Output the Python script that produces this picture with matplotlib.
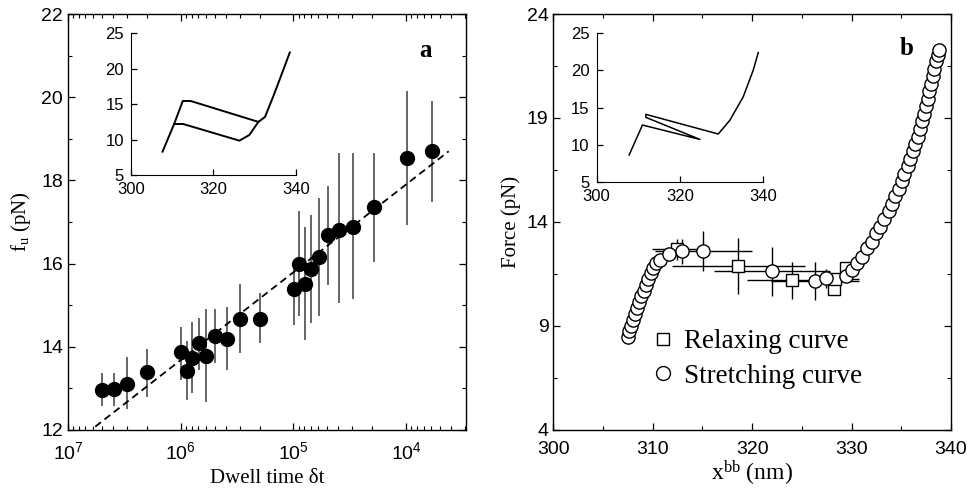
import matplotlib
matplotlib.use('Agg')
import matplotlib.pyplot as plt
from matplotlib.ticker import MultipleLocator, FixedLocator, NullFormatter, LogLocator
from matplotlib.lines import Line2D

plt.rcParams['font.family'] = 'Liberation Sans'
plt.rcParams['mathtext.fontset'] = 'custom'
plt.rcParams['mathtext.rm'] = 'Liberation Serif'
plt.rcParams['mathtext.it'] = 'Liberation Serif:italic'
plt.rcParams['mathtext.sf'] = 'Liberation Sans'

SERIF = 'Liberation Serif'

# ---------------- Panel a data ----------------
dwell = [5.0e6, 3.94e6, 3.0e6, 2.0e6, 1.0e6, 8.8e5, 7.9e5, 6.95e5, 6.0e5, 5.0e5,
         3.92e5, 2.97e5, 1.99e5, 9.9e4, 8.85e4, 7.9e4, 6.97e4, 5.93e4, 4.9e4,
         3.94e4, 2.98e4, 1.95e4, 9.9e3, 5.86e3]
f_u = [12.96, 12.99, 13.10, 13.40, 13.88, 13.43, 13.72, 14.08, 13.79, 14.26,
       14.18, 14.66, 14.68, 15.38, 15.99, 15.51, 15.87, 16.15, 16.68,
       16.81, 16.89, 17.35, 18.54, 18.70]
f_hi = [13.38, 13.38, 13.75, 13.95, 14.47, 14.15, 14.60, 14.69, 14.90, 14.90,
        14.95, 15.50, 15.29, 16.05, 17.27, 16.87, 17.17, 17.57, 17.87,
        18.66, 18.66, 18.66, 20.16, 19.90]
f_lo = [12.58, 12.58, 12.50, 12.80, 13.20, 12.72, 12.88, 13.44, 12.68, 13.62,
        13.44, 13.84, 14.08, 14.53, 14.74, 14.17, 14.57, 14.73, 15.49,
        15.05, 15.14, 16.03, 16.92, 17.49]
fit_t = [5.73e6, 4.2e3]
fit_f = [12.08, 18.70]

ins_a_up_x = [307.7, 310.5, 312.6, 314.5, 330.9, 332.5, 334.5, 336.9, 338.5]
ins_a_up_y = [8.3, 12.2, 15.45, 15.45, 12.5, 13.2, 16.1, 19.8, 22.3]
ins_a_lo_x = [310.5, 312.7, 326.3, 328.7, 330.9]
ins_a_lo_y = [12.2, 12.2, 9.85, 10.65, 12.5]

# ---------------- Panel b data ----------------
str_x = [307.48, 307.65, 307.85, 308.05, 308.25, 308.45, 308.65, 308.85, 309.1,
         309.3, 309.55, 309.8, 310.05, 310.35, 310.74, 311.64,
         329.43, 330.03, 330.54, 331.04, 331.54, 332.05, 332.45, 332.89, 333.29,
         333.72, 334.06, 334.40, 334.73, 335.07, 335.30, 335.64, 335.91, 336.14,
         336.41, 336.64, 336.85, 337.08, 337.25, 337.48, 337.65, 337.82, 337.99,
         338.15, 338.32, 338.46, 338.66, 338.76]
str_y = [8.46, 8.74, 9.02, 9.30, 9.58, 9.86, 10.14, 10.42, 10.70,
         10.98, 11.26, 11.54, 11.80, 12.02, 12.18, 12.45,
         11.38, 11.70, 12.02, 12.34, 12.74, 13.06, 13.46, 13.78, 14.14,
         14.51, 14.87, 15.23, 15.58, 15.95, 16.32, 16.67, 17.02, 17.39,
         17.76, 18.11, 18.47, 18.84, 19.20, 19.56, 19.91, 20.28, 20.65,
         21.00, 21.35, 21.72, 22.04, 22.28]

pc_x = [312.93, 315.1, 321.99, 326.3, 327.46]
pc_y = [12.6, 12.6, 11.64, 11.16, 11.3]
pc_xerr = [0.4, 4.9, 5.8, 4.4, 0.6]
pc_yerr = [0.6, 0.96, 1.18, 0.9, 0.45]

sq_x = [312.4, 318.6, 324.0, 328.2, 328.3, 329.4]
sq_y = [12.69, 11.88, 11.2, 10.8, 11.25, 11.8]
sq_xerr = [2.5, 6.7, 4.5, 0.3, 2.4, 0.4]
sq_yerr = [0.5, 1.35, 0.9, 0.3, 0.3, 0.3]

ins_b_x = [307.8, 311.0, 324.8, 311.8, 311.8, 329.2, 332.0, 335.2, 337.6, 338.8]
ins_b_y = [8.6, 12.64, 10.7, 13.68, 14.08, 11.43, 13.3, 16.45, 20.05, 22.4]

fig = plt.figure(figsize=(9.67, 4.93), dpi=100)

def style_main(ax):
    ax.tick_params(which='both', direction='in', top=True, right=True, labelsize=14)
    ax.tick_params(which='major', length=5, width=0.9)
    ax.tick_params(which='minor', length=3, width=0.8)
    ax.tick_params(axis='x', which='both', pad=8)
    for s in ax.spines.values():
        s.set_linewidth(1.0)

def style_inset(ax):
    ax.spines['top'].set_visible(False)
    ax.spines['right'].set_visible(False)
    ax.tick_params(which='both', direction='in', labelsize=12, length=4, width=0.9)
    ax.tick_params(axis='x', pad=5)
    ax.tick_params(axis='y', pad=5)
    ax.set_xlim(300, 340)
    ax.set_ylim(5, 25)
    ax.set_xticks([300, 320, 340])
    ax.set_yticks([5, 10, 15, 20, 25])

# ---------------- Panel a ----------------
axa = fig.add_axes([0.0703, 0.1278, 0.4116, 0.8438])
axa.set_xscale('log')
axa.set_xlim(1e7, 2.95e3)
axa.set_ylim(12, 22)
axa.yaxis.set_major_locator(MultipleLocator(2))
axa.yaxis.set_minor_locator(MultipleLocator(1))
axa.xaxis.set_major_locator(LogLocator(base=10))
axa.xaxis.set_minor_locator(LogLocator(base=10, subs=range(2, 10)))
axa.xaxis.set_minor_formatter(NullFormatter())
style_main(axa)
axa.vlines(dwell, f_lo, f_hi, color='#5a5a5a', lw=1.3, zorder=2)
axa.plot(fit_t, fit_f, color='black', lw=1.3, dashes=(4, 2.5), zorder=2)
axa.plot(dwell, f_u, 'o', color='black', ms=10, zorder=3)
axa.set_xlabel('Dwell time δt', family=SERIF, fontsize=15, labelpad=4)
axa.set_ylabel(r'f$_\mathrm{u}$ (pN)', family=SERIF, fontsize=15, labelpad=6)
axa.text(0.897, 0.913, 'a', transform=axa.transAxes, family=SERIF,
         fontweight='bold', fontsize=18, ha='center', va='center')

ina = fig.add_axes([0.1352, 0.645, 0.1709, 0.2874])
style_inset(ina)
ina.plot(ins_a_up_x, ins_a_up_y, color='black', lw=1.4)
ina.plot(ins_a_lo_x, ins_a_lo_y, color='black', lw=1.4)

# ---------------- Panel b ----------------
axb = fig.add_axes([0.5722, 0.1278, 0.4113, 0.8438])
axb.set_xlim(300, 340)
axb.set_ylim(4, 24)
axb.xaxis.set_major_locator(MultipleLocator(10))
axb.xaxis.set_minor_locator(MultipleLocator(5))
axb.set_yticks([4, 9, 14, 19, 24])
axb.yaxis.set_minor_locator(FixedLocator([6.5, 11.5, 16.5, 21.5]))
style_main(axb)
axb.errorbar(sq_x, sq_y, xerr=sq_xerr, yerr=sq_yerr, fmt='none', ecolor='black',
             elinewidth=1.0, capsize=0, zorder=2)
axb.errorbar(pc_x, pc_y, xerr=pc_xerr, yerr=pc_yerr, fmt='none', ecolor='black',
             elinewidth=1.0, capsize=0, zorder=2)
axb.plot(sq_x, sq_y, 's', mfc='white', mec='black', mew=1.0, ms=8, ls='none', zorder=3)
axb.plot(str_x, str_y, 'o', mfc='white', mec='black', mew=1.0, ms=9.5, ls='none', zorder=4)
axb.plot(pc_x, pc_y, 'o', mfc='white', mec='black', mew=1.0, ms=9.5, ls='none', zorder=4)
axb.set_xlabel(r'x$^{\mathrm{bb}}$ (nm)', family=SERIF, fontsize=17, labelpad=0)
axb.set_ylabel('Force (pN)', family=SERIF, fontsize=15, labelpad=4)
axb.text(0.889, 0.918, 'b', transform=axb.transAxes, family=SERIF,
         fontweight='bold', fontsize=18, ha='center', va='center')

handles = [Line2D([], [], marker='s', mfc='white', mec='black', mew=1.0, ms=9, ls='none'),
           Line2D([], [], marker='o', mfc='white', mec='black', mew=1.0, ms=10, ls='none')]
axb.legend(handles, ['Relaxing curve', 'Stretching curve'], loc='upper left',
           bbox_to_anchor=(0.215, 0.275), frameon=False, handlelength=0.8,
           handletextpad=0.35, labelspacing=0.35, borderpad=0,
           prop={'family': SERIF, 'size': 19.5})

inb = fig.add_axes([0.617, 0.6314, 0.1723, 0.301])
style_inset(inb)
inb.plot(ins_b_x, ins_b_y, color='black', lw=1.1)

fig.savefig('out.png', dpi=100)
